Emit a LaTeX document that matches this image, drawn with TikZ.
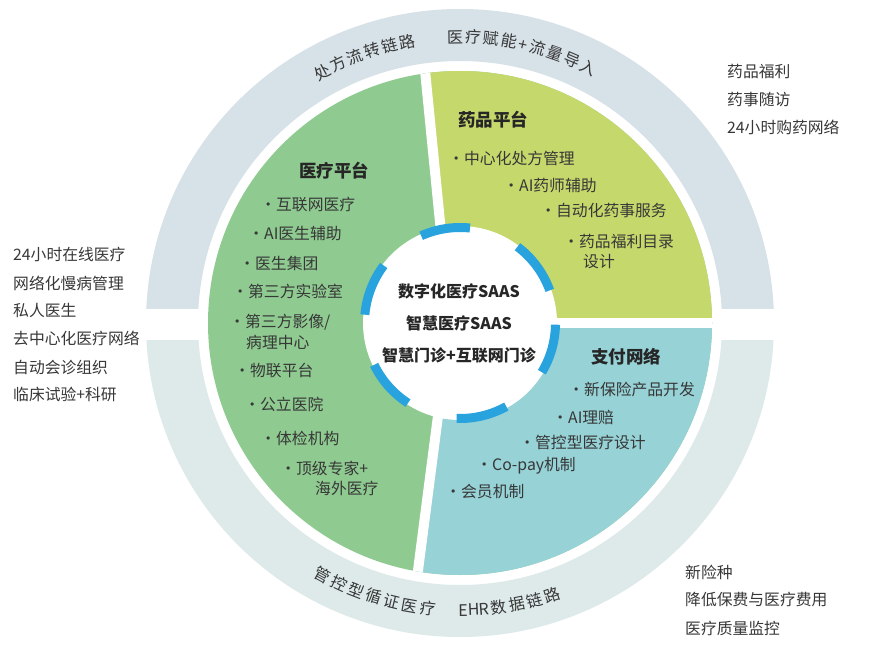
\documentclass[tikz,border=0pt]{standalone}
\usepackage{fontspec}
\setmainfont{Noto Sans CJK SC}
\usetikzlibrary{calc}
\definecolor{ringtop}{RGB}{214,225,232}
\definecolor{ringbot}{RGB}{221,234,233}
\definecolor{secgreen}{RGB}{143,203,145}
\definecolor{secyellow}{RGB}{197,216,108}
\definecolor{secteal}{RGB}{150,210,214}
\definecolor{arcblue}{RGB}{41,163,221}
\definecolor{txt}{RGB}{55,55,55}
\definecolor{ttl}{RGB}{38,38,38}
\newcommand\bul{\makebox[0pt]{·}\hspace{8pt}}
\begin{document}
\begin{tikzpicture}[x=1pt,y=1pt,
  item/.style={anchor=west,inner sep=0pt,text=txt,font=\fontsize{15.8}{18}\selectfont},
  sidetext/.style={anchor=west,inner sep=0pt,text=txt,font=\fontsize{15.8}{18}\selectfont},
  title/.style={inner sep=0pt,text=ttl,font=\fontsize{17.5}{20}\selectfont\bfseries},
  core/.style={inner sep=0pt,text=ttl,font=\fontsize{16}{19}\selectfont\bfseries},
  ringch/.style={inner sep=0pt,anchor=base,text=txt,font=\fontsize{16}{19}\selectfont},
  divider/.style={white,line width=10pt},
  bluearc/.style={arcblue,line width=9pt}]
\useasboundingbox[fill=white] (0,0) rectangle (887,-650);
\coordinate (C) at (460,-323);
% outer ring
\begin{scope}
\clip (0,-308) rectangle (887,0);
\fill[ringtop,even odd rule] (C) circle[radius=314] (C) circle[radius=262];
\end{scope}
\begin{scope}
\clip (0,-340) rectangle (887,-650);
\fill[ringbot,even odd rule] (C) circle[radius=314] (C) circle[radius=262];
\end{scope}
% sectors
\coordinate (M) at (450,-323);
\coordinate (T) at (421,-30);
\coordinate (B) at (409,-640);
\coordinate (R) at (887,-323);
\begin{scope}
\clip (C) circle[radius=252];
\fill[secgreen] (0,0) rectangle (887,-650);
\fill[secyellow] (T) -- (887,-30) -- (R) -- (M) -- cycle;
\fill[secteal] (M) -- (R) -- (887,-640) -- (B) -- cycle;
\draw[divider] (T) -- (M) -- (B);
\draw[divider] (M) -- (R);
\end{scope}
% centre circle
\fill[white] (C) circle[radius=97];
\foreach \a/\b in {84/114,20/53,-31/-1,-92/-61,206/237,143/175}
  \draw[bluearc] ($(C)+(\a:95.5)$) arc[start angle=\a,end angle=\b,radius=95.5];
% ring texts (one glyph per node, set along the ring)
\foreach \ch/\ang [count=\i] in {处/118.8,方/115.16,流/111.52,转/107.88,链/104.24,路/100.6}
  \node[ringch,rotate=\ang-90] (ra\i) at ($(C)+(\ang:280)$) {\ch};
\foreach \ch/\ang [count=\i] in {医/91,疗/87.35,赋/83.7,能/80.05,+/77.15,流/74.25,量/70.6,导/66.95,入/63.3}
  \node[ringch,rotate=\ang-90] (rb\i) at ($(C)+(\ang:280)$) {\ch};
\foreach \ch/\ang [count=\i] in {管/241.3,控/245.02,型/248.74,循/252.46,证/256.18,医/259.9,疗/263.6}
  \node[ringch,rotate=\ang+90] (rc\i) at ($(C)+(\ang:293)$) {\ch};
\foreach \ch/\ang [count=\i] in {E/270.6,H/272.74,R/274.84,数/277.74,据/281.4,链/285.07,路/288.74}
  \node[ringch,rotate=\ang+90] (rd\i) at ($(C)+(\ang:293)$) {\ch};
% centre texts
\node[core] (c1) at (459,-291) {数字化医疗SAAS};
\node[core] (c2) at (459,-323) {智慧医疗SAAS};
\node[core] (c3) at (459,-355) {智慧门诊+互联网门诊};
% green sector
\node[title] (g0) at (334,-171) {医疗平台};
\node[item] (g1) at (268,-205) {\bul 互联网医疗};
\node[item] (g2) at (256,-234) {\bul AI医生辅助};
\node[item] (g3) at (247,-263) {\bul 医生集团};
\node[item] (g4) at (240,-291) {\bul 第三方实验室};
\node[item] (g5) at (237,-322) {\bul 第三方影像/};
\node[item] (g5b) at (246,-342) {病理中心};
\node[item] (g6) at (242,-371) {\bul 物联平台};
\node[item] (g7) at (252,-404) {\bul 公立医院};
\node[item] (g8) at (268,-438) {\bul 体检机构};
\node[item] (g9) at (288,-468) {\bul 顶级专家+};
\node[item] (g9b) at (315,-488) {海外医疗};
% yellow sector
\node[title] (y0) at (493,-120) {药品平台};
\node[item] (y1) at (456,-158) {\bul 中心化处方管理};
\node[item] (y2) at (511,-186) {\bul AI药师辅助};
\node[item] (y3) at (548,-211) {\bul 自动化药事服务};
\node[item] (y4) at (571,-242) {\bul 药品福利目录};
\node[item] (y4b) at (583,-262) {设计};
% teal sector
\node[title] (t0) at (626,-357) {支付网络};
\node[item] (t1) at (576,-389) {\bul 新保险产品开发};
\node[item] (t2) at (560,-417) {\bul AI理赔};
\node[item] (t3) at (527,-442) {\bul 管控型医疗设计};
\node[item] (t4) at (484,-466) {\bul Co-pay机制};
\node[item] (t5) at (453,-492) {\bul 会员机制};
% side texts
\node[sidetext] (l1) at (13,-254) {24小时在线医疗};
\node[sidetext] (l2) at (13,-283) {网络化慢病管理};
\node[sidetext] (l3) at (13,-310) {私人医生};
\node[sidetext] (l4) at (13,-338) {去中心化医疗网络};
\node[sidetext] (l5) at (13,-367) {自动会诊组织};
\node[sidetext] (l6) at (13,-394) {临床试验+科研};
\node[sidetext] (r1) at (727,-72) {药品福利};
\node[sidetext] (r2) at (727,-100) {药事随访};
\node[sidetext] (r3) at (727,-127) {24小时购药网络};
\node[sidetext] (b1) at (685,-572) {新险种};
\node[sidetext] (b2) at (685,-600) {降低保费与医疗费用};
\node[sidetext] (b3) at (685,-628) {医疗质量监控};
\end{tikzpicture}
\end{document}
